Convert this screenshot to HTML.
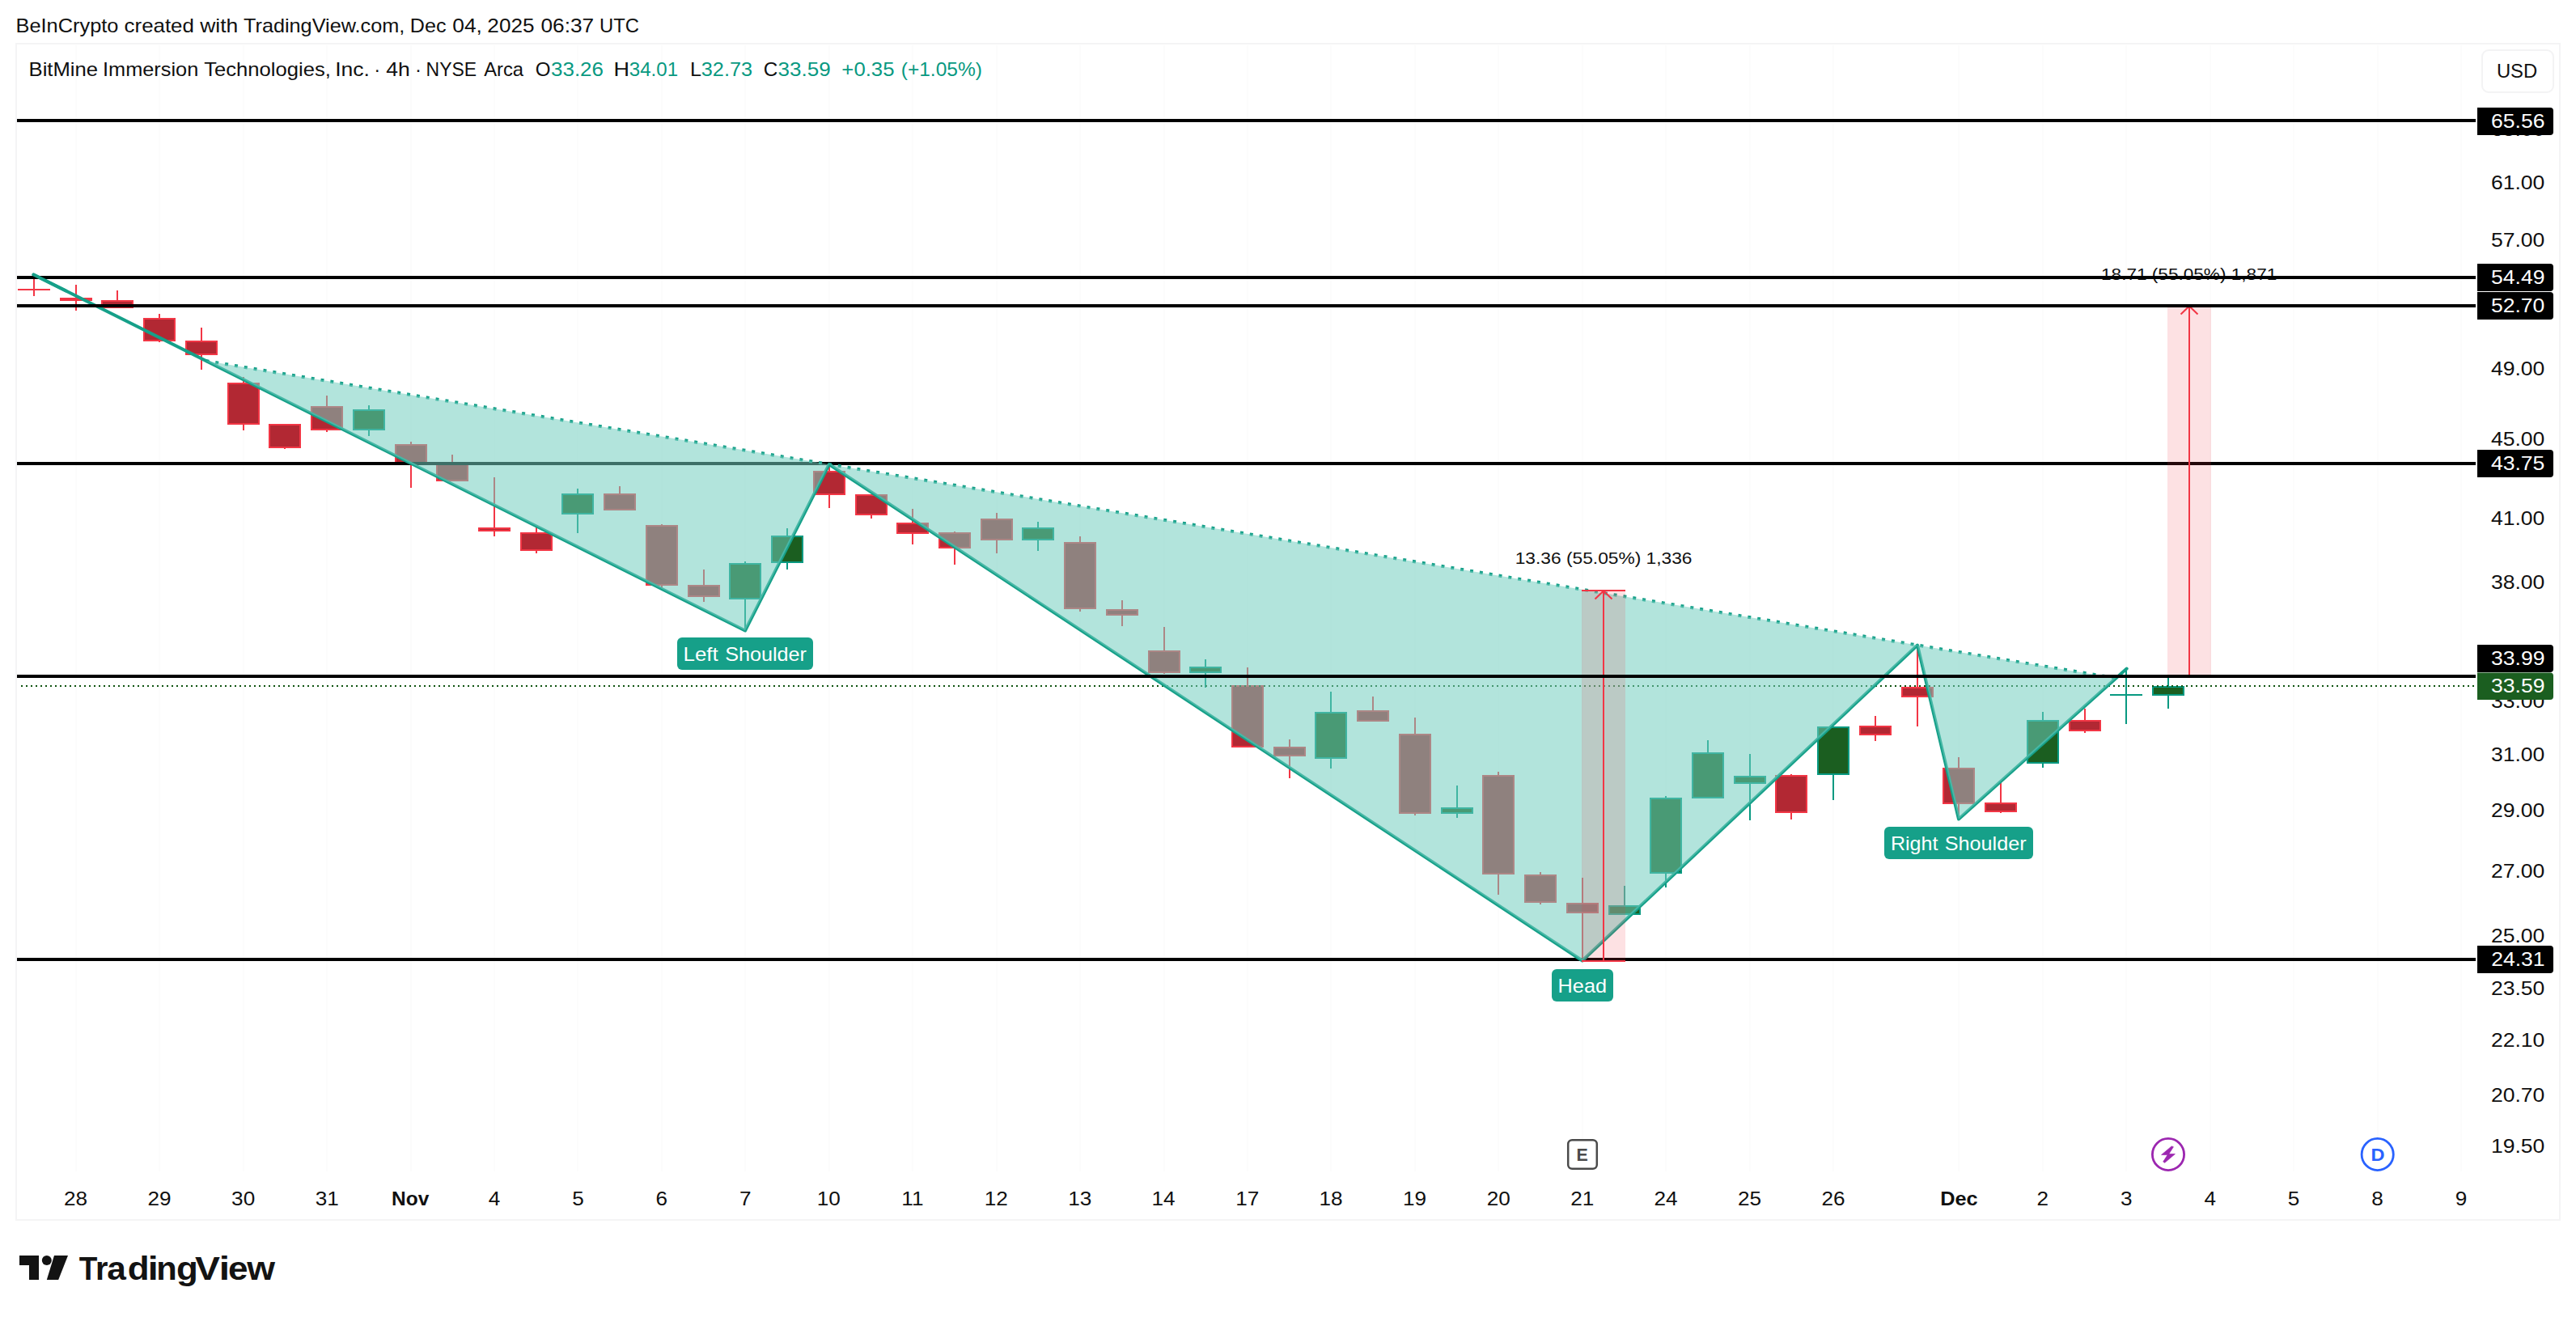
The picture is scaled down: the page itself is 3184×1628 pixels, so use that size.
<!DOCTYPE html>
<html lang="en"><head><meta charset="utf-8"><title>BMNR chart</title>
<style>html,body{margin:0;padding:0;background:#fff;}body{width:3184px;height:1628px;overflow:hidden;}svg{display:block;position:absolute;left:0;top:0;}text{font-family:"Liberation Sans", Arial, Helvetica, sans-serif;paint-order:stroke fill;}</style>
</head><body>
<svg width="3184" height="1628" viewBox="0 0 3184 1628">
<rect x="0" y="0" width="3184" height="1628" fill="#ffffff"/>
<rect x="20" y="54" width="3144" height="1454" fill="none" stroke="#f4f4f5" stroke-width="2"/>
<g stroke="#fcfcfc" stroke-width="2">
<line x1="94" y1="56" x2="94" y2="1448"/>
<line x1="197" y1="56" x2="197" y2="1448"/>
<line x1="301" y1="56" x2="301" y2="1448"/>
<line x1="404" y1="56" x2="404" y2="1448"/>
<line x1="508" y1="56" x2="508" y2="1448"/>
<line x1="611" y1="56" x2="611" y2="1448"/>
<line x1="714" y1="56" x2="714" y2="1448"/>
<line x1="818" y1="56" x2="818" y2="1448"/>
<line x1="921" y1="56" x2="921" y2="1448"/>
<line x1="1025" y1="56" x2="1025" y2="1448"/>
<line x1="1128" y1="56" x2="1128" y2="1448"/>
<line x1="1232" y1="56" x2="1232" y2="1448"/>
<line x1="1335" y1="56" x2="1335" y2="1448"/>
<line x1="1439" y1="56" x2="1439" y2="1448"/>
<line x1="1542" y1="56" x2="1542" y2="1448"/>
<line x1="1645" y1="56" x2="1645" y2="1448"/>
<line x1="1749" y1="56" x2="1749" y2="1448"/>
<line x1="1852" y1="56" x2="1852" y2="1448"/>
<line x1="1956" y1="56" x2="1956" y2="1448"/>
<line x1="2059" y1="56" x2="2059" y2="1448"/>
<line x1="2163" y1="56" x2="2163" y2="1448"/>
<line x1="2266" y1="56" x2="2266" y2="1448"/>
<line x1="2421" y1="56" x2="2421" y2="1448"/>
<line x1="2525" y1="56" x2="2525" y2="1448"/>
<line x1="2628" y1="56" x2="2628" y2="1448"/>
<line x1="2732" y1="56" x2="2732" y2="1448"/>
<line x1="2835" y1="56" x2="2835" y2="1448"/>
<line x1="2939" y1="56" x2="2939" y2="1448"/>
<line x1="3042" y1="56" x2="3042" y2="1448"/>
</g>
<g shape-rendering="crispEdges">
<rect x="41" y="341" width="2" height="25" fill="#f23645"/>
<rect x="22" y="357" width="40" height="2" fill="#f23645"/>
<rect x="93" y="352" width="2" height="32" fill="#f23645"/>
<rect x="74" y="368" width="40" height="4" fill="#f23645"/>
<rect x="144" y="359" width="2" height="22" fill="#f23645"/>
<rect x="125" y="371" width="40" height="10" fill="#f23645"/>
<rect x="127" y="373" width="36" height="6" fill="#b22833"/>
<rect x="196" y="388" width="2" height="35" fill="#f23645"/>
<rect x="177" y="393" width="40" height="29" fill="#f23645"/>
<rect x="179" y="395" width="36" height="25" fill="#b22833"/>
<rect x="248" y="405" width="2" height="52" fill="#f23645"/>
<rect x="229" y="421" width="40" height="18" fill="#f23645"/>
<rect x="231" y="423" width="36" height="14" fill="#b22833"/>
<rect x="300" y="466" width="2" height="66" fill="#f23645"/>
<rect x="281" y="473" width="40" height="52" fill="#f23645"/>
<rect x="283" y="475" width="36" height="48" fill="#b22833"/>
<rect x="351" y="524" width="2" height="31" fill="#f23645"/>
<rect x="332" y="524" width="40" height="30" fill="#f23645"/>
<rect x="334" y="526" width="36" height="26" fill="#b22833"/>
<rect x="403" y="489" width="2" height="45" fill="#f23645"/>
<rect x="384" y="502" width="40" height="30" fill="#f23645"/>
<rect x="386" y="504" width="36" height="26" fill="#b22833"/>
<rect x="455" y="501" width="2" height="38" fill="#089981"/>
<rect x="436" y="506" width="40" height="26" fill="#089981"/>
<rect x="438" y="508" width="36" height="22" fill="#1b5e20"/>
<rect x="507" y="546" width="2" height="57" fill="#f23645"/>
<rect x="488" y="549" width="40" height="24" fill="#f23645"/>
<rect x="490" y="551" width="36" height="20" fill="#b22833"/>
<rect x="558" y="562" width="2" height="33" fill="#f23645"/>
<rect x="539" y="571" width="40" height="24" fill="#f23645"/>
<rect x="541" y="573" width="36" height="20" fill="#b22833"/>
<rect x="610" y="590" width="2" height="73" fill="#f23645"/>
<rect x="591" y="652" width="40" height="5" fill="#f23645"/>
<rect x="593" y="654" width="36" height="1" fill="#b22833"/>
<rect x="662" y="652" width="2" height="32" fill="#f23645"/>
<rect x="643" y="658" width="40" height="23" fill="#f23645"/>
<rect x="645" y="660" width="36" height="19" fill="#b22833"/>
<rect x="713" y="604" width="2" height="55" fill="#089981"/>
<rect x="694" y="610" width="40" height="26" fill="#089981"/>
<rect x="696" y="612" width="36" height="22" fill="#1b5e20"/>
<rect x="765" y="601" width="2" height="30" fill="#f23645"/>
<rect x="746" y="610" width="40" height="21" fill="#f23645"/>
<rect x="748" y="612" width="36" height="17" fill="#b22833"/>
<rect x="817" y="648" width="2" height="81" fill="#f23645"/>
<rect x="798" y="649" width="40" height="75" fill="#f23645"/>
<rect x="800" y="651" width="36" height="71" fill="#b22833"/>
<rect x="869" y="704" width="2" height="40" fill="#f23645"/>
<rect x="850" y="723" width="40" height="15" fill="#f23645"/>
<rect x="852" y="725" width="36" height="11" fill="#b22833"/>
<rect x="920" y="694" width="2" height="87" fill="#089981"/>
<rect x="901" y="696" width="40" height="45" fill="#089981"/>
<rect x="903" y="698" width="36" height="41" fill="#1b5e20"/>
<rect x="972" y="653" width="2" height="51" fill="#089981"/>
<rect x="953" y="662" width="40" height="34" fill="#089981"/>
<rect x="955" y="664" width="36" height="30" fill="#1b5e20"/>
<rect x="1024" y="574" width="2" height="54" fill="#f23645"/>
<rect x="1005" y="582" width="40" height="30" fill="#f23645"/>
<rect x="1007" y="584" width="36" height="26" fill="#b22833"/>
<rect x="1076" y="611" width="2" height="30" fill="#f23645"/>
<rect x="1057" y="611" width="40" height="26" fill="#f23645"/>
<rect x="1059" y="613" width="36" height="22" fill="#b22833"/>
<rect x="1127" y="629" width="2" height="44" fill="#f23645"/>
<rect x="1108" y="646" width="40" height="14" fill="#f23645"/>
<rect x="1110" y="648" width="36" height="10" fill="#b22833"/>
<rect x="1179" y="657" width="2" height="41" fill="#f23645"/>
<rect x="1160" y="658" width="40" height="20" fill="#f23645"/>
<rect x="1162" y="660" width="36" height="16" fill="#b22833"/>
<rect x="1231" y="634" width="2" height="50" fill="#f23645"/>
<rect x="1212" y="641" width="40" height="27" fill="#f23645"/>
<rect x="1214" y="643" width="36" height="23" fill="#b22833"/>
<rect x="1282" y="645" width="2" height="36" fill="#089981"/>
<rect x="1263" y="652" width="40" height="16" fill="#089981"/>
<rect x="1265" y="654" width="36" height="12" fill="#1b5e20"/>
<rect x="1334" y="663" width="2" height="93" fill="#f23645"/>
<rect x="1315" y="670" width="40" height="83" fill="#f23645"/>
<rect x="1317" y="672" width="36" height="79" fill="#b22833"/>
<rect x="1386" y="742" width="2" height="32" fill="#f23645"/>
<rect x="1367" y="753" width="40" height="8" fill="#f23645"/>
<rect x="1369" y="755" width="36" height="4" fill="#b22833"/>
<rect x="1438" y="775" width="2" height="58" fill="#f23645"/>
<rect x="1419" y="804" width="40" height="28" fill="#f23645"/>
<rect x="1421" y="806" width="36" height="24" fill="#b22833"/>
<rect x="1489" y="815" width="2" height="35" fill="#089981"/>
<rect x="1470" y="824" width="40" height="8" fill="#089981"/>
<rect x="1472" y="826" width="36" height="4" fill="#1b5e20"/>
<rect x="1541" y="825" width="2" height="99" fill="#f23645"/>
<rect x="1522" y="847" width="40" height="77" fill="#f23645"/>
<rect x="1524" y="849" width="36" height="73" fill="#b22833"/>
<rect x="1593" y="914" width="2" height="48" fill="#f23645"/>
<rect x="1574" y="923" width="40" height="12" fill="#f23645"/>
<rect x="1576" y="925" width="36" height="8" fill="#b22833"/>
<rect x="1644" y="855" width="2" height="95" fill="#089981"/>
<rect x="1625" y="880" width="40" height="58" fill="#089981"/>
<rect x="1627" y="882" width="36" height="54" fill="#1b5e20"/>
<rect x="1696" y="861" width="2" height="31" fill="#f23645"/>
<rect x="1677" y="878" width="40" height="14" fill="#f23645"/>
<rect x="1679" y="880" width="36" height="10" fill="#b22833"/>
<rect x="1748" y="887" width="2" height="121" fill="#f23645"/>
<rect x="1729" y="907" width="40" height="99" fill="#f23645"/>
<rect x="1731" y="909" width="36" height="95" fill="#b22833"/>
<rect x="1800" y="971" width="2" height="40" fill="#089981"/>
<rect x="1781" y="998" width="40" height="8" fill="#089981"/>
<rect x="1783" y="1000" width="36" height="4" fill="#1b5e20"/>
<rect x="1851" y="954" width="2" height="152" fill="#f23645"/>
<rect x="1832" y="958" width="40" height="123" fill="#f23645"/>
<rect x="1834" y="960" width="36" height="119" fill="#b22833"/>
<rect x="1903" y="1078" width="2" height="40" fill="#f23645"/>
<rect x="1884" y="1081" width="40" height="35" fill="#f23645"/>
<rect x="1886" y="1083" width="36" height="31" fill="#b22833"/>
<rect x="1955" y="1085" width="2" height="102" fill="#f23645"/>
<rect x="1936" y="1116" width="40" height="13" fill="#f23645"/>
<rect x="1938" y="1118" width="36" height="9" fill="#b22833"/>
<rect x="2007" y="1095" width="2" height="36" fill="#089981"/>
<rect x="1988" y="1119" width="40" height="12" fill="#089981"/>
<rect x="1990" y="1121" width="36" height="8" fill="#1b5e20"/>
<rect x="2058" y="984" width="2" height="113" fill="#089981"/>
<rect x="2039" y="986" width="40" height="94" fill="#089981"/>
<rect x="2041" y="988" width="36" height="90" fill="#1b5e20"/>
<rect x="2110" y="915" width="2" height="72" fill="#089981"/>
<rect x="2091" y="930" width="40" height="57" fill="#089981"/>
<rect x="2093" y="932" width="36" height="53" fill="#1b5e20"/>
<rect x="2162" y="932" width="2" height="82" fill="#089981"/>
<rect x="2143" y="959" width="40" height="10" fill="#089981"/>
<rect x="2145" y="961" width="36" height="6" fill="#1b5e20"/>
<rect x="2213" y="957" width="2" height="56" fill="#f23645"/>
<rect x="2194" y="958" width="40" height="47" fill="#f23645"/>
<rect x="2196" y="960" width="36" height="43" fill="#b22833"/>
<rect x="2265" y="898" width="2" height="91" fill="#089981"/>
<rect x="2246" y="898" width="40" height="60" fill="#089981"/>
<rect x="2248" y="900" width="36" height="56" fill="#1b5e20"/>
<rect x="2317" y="885" width="2" height="31" fill="#f23645"/>
<rect x="2298" y="897" width="40" height="12" fill="#f23645"/>
<rect x="2300" y="899" width="36" height="8" fill="#b22833"/>
<rect x="2369" y="798" width="2" height="100" fill="#f23645"/>
<rect x="2350" y="849" width="40" height="13" fill="#f23645"/>
<rect x="2352" y="851" width="36" height="9" fill="#b22833"/>
<rect x="2420" y="936" width="2" height="76" fill="#f23645"/>
<rect x="2401" y="949" width="40" height="45" fill="#f23645"/>
<rect x="2403" y="951" width="36" height="41" fill="#b22833"/>
<rect x="2472" y="964" width="2" height="41" fill="#f23645"/>
<rect x="2453" y="992" width="40" height="12" fill="#f23645"/>
<rect x="2455" y="994" width="36" height="8" fill="#b22833"/>
<rect x="2524" y="880" width="2" height="69" fill="#089981"/>
<rect x="2505" y="890" width="40" height="54" fill="#089981"/>
<rect x="2507" y="892" width="36" height="50" fill="#1b5e20"/>
<rect x="2576" y="876" width="2" height="30" fill="#f23645"/>
<rect x="2557" y="890" width="40" height="14" fill="#f23645"/>
<rect x="2559" y="892" width="36" height="10" fill="#b22833"/>
<rect x="2627" y="827" width="2" height="68" fill="#089981"/>
<rect x="2608" y="858" width="40" height="2" fill="#089981"/>
<rect x="2679" y="837" width="2" height="39" fill="#089981"/>
<rect x="2660" y="848" width="40" height="12" fill="#089981"/>
<rect x="2662" y="850" width="36" height="8" fill="#1b5e20"/>
</g>
<line x1="26" y1="848" x2="3060" y2="848" stroke="#0e520f" stroke-width="2" stroke-dasharray="2 4" shape-rendering="crispEdges"/>
<rect x="21" y="147" width="3039" height="4" fill="#000"/>
<rect x="21" y="341" width="3039" height="4" fill="#000"/>
<rect x="21" y="571" width="3039" height="4" fill="#000"/>
<rect x="21" y="1184" width="3039" height="4" fill="#000"/>
<g>
<line x1="254.4" y1="446.0" x2="2615.5" y2="838.3" stroke="#16a089" stroke-width="4" stroke-dasharray="4 8"/>
<polyline points="41.5,339.5 921.0,779.5 1024.8,574.0 1955.8,1187.5 2370.0,797.5 2421.0,1012.5 2628.7,826.5" fill="none" stroke="#16a089" stroke-width="4" stroke-linejoin="round" stroke-linecap="round"/>
<polygon points="254.4,446.0 921.0,779.5 1024.8,574.0" fill="rgba(112,205,190,0.54)"/>
<polygon points="1024.8,574.0 1955.8,1187.5 2370.0,797.5" fill="rgba(112,205,190,0.54)"/>
<polygon points="2370.0,797.5 2421.0,1012.5 2615.5,838.3" fill="rgba(112,205,190,0.54)"/>
</g>
<rect x="1955" y="729" width="54" height="459" fill="rgba(242,54,69,0.15)"/>
<g stroke="#f23645" stroke-width="2" fill="none">
<line x1="1955" y1="730" x2="2009" y2="730"/>
<line x1="1955" y1="1188" x2="2009" y2="1188"/>
<line x1="1982" y1="730" x2="1982" y2="1188"/>
<polyline points="1971.5,740.5 1982,730.5 1992.5,740.5"/>
</g>
<text x="1872.69" y="697.40" font-size="20.40" fill="#101010" textLength="218.79" lengthAdjust="spacingAndGlyphs">13.36 (55.05%) 1,336</text>
<rect x="2679" y="378" width="54" height="458" fill="rgba(242,54,69,0.15)"/>
<g stroke="#f23645" stroke-width="2" fill="none">
<line x1="2679" y1="378" x2="2733" y2="378"/>
<line x1="2706" y1="378" x2="2706" y2="836"/>
<polyline points="2695.5,388.5 2706,378.5 2716.5,388.5"/>
</g>
<text x="2597.01" y="346.00" font-size="20.40" fill="#101010" textLength="217.28" lengthAdjust="spacingAndGlyphs">18.71 (55.05%) 1,871</text>
<rect x="21" y="341" width="3039" height="4" fill="#000"/>
<rect x="21" y="376" width="3039" height="4" fill="#000"/>
<rect x="21" y="834" width="3039" height="4" fill="#000"/>
<line x1="41.5" y1="339.5" x2="81.5" y2="359.5" stroke="#16a089" stroke-width="4" stroke-linecap="round"/>
<rect x="837.0" y="788.0" width="168.0" height="40.0" rx="6" ry="6" fill="#16a089"/>
<text y="817.00" font-size="23.60"><tspan x="844.53" fill="#fff" textLength="43.11" lengthAdjust="spacingAndGlyphs">Left</tspan> <tspan x="896.17" fill="#fff" textLength="100.82" lengthAdjust="spacingAndGlyphs">Shoulder</tspan></text>
<rect x="1918.0" y="1198.0" width="76.0" height="40.0" rx="6" ry="6" fill="#16a089"/>
<text y="1227.00" font-size="23.60"><tspan x="1925.58" fill="#fff" textLength="60.42" lengthAdjust="spacingAndGlyphs">Head</tspan></text>
<rect x="2329.0" y="1022.0" width="184.0" height="40.0" rx="6" ry="6" fill="#16a089"/>
<text y="1051.00" font-size="23.60"><tspan x="2337.00" fill="#fff" textLength="58.41" lengthAdjust="spacingAndGlyphs">Right</tspan> <tspan x="2403.67" fill="#fff" textLength="100.92" lengthAdjust="spacingAndGlyphs">Shoulder</tspan></text>
<text x="3078.93" y="167.80" font-size="24.00" fill="#101010" textLength="66.37" lengthAdjust="spacingAndGlyphs">65.00</text>
<text x="3078.93" y="234.00" font-size="24.00" fill="#101010" textLength="66.37" lengthAdjust="spacingAndGlyphs">61.00</text>
<text x="3078.93" y="305.40" font-size="24.00" fill="#101010" textLength="66.37" lengthAdjust="spacingAndGlyphs">57.00</text>
<text x="3078.93" y="463.50" font-size="24.00" fill="#101010" textLength="66.37" lengthAdjust="spacingAndGlyphs">49.00</text>
<text x="3078.93" y="550.90" font-size="24.00" fill="#101010" textLength="66.37" lengthAdjust="spacingAndGlyphs">45.00</text>
<text x="3078.93" y="649.00" font-size="24.00" fill="#101010" textLength="66.37" lengthAdjust="spacingAndGlyphs">41.00</text>
<text x="3078.93" y="727.70" font-size="24.00" fill="#101010" textLength="66.37" lengthAdjust="spacingAndGlyphs">38.00</text>
<text x="3078.93" y="813.60" font-size="24.00" fill="#101010" textLength="66.37" lengthAdjust="spacingAndGlyphs">35.00</text>
<text x="3078.93" y="875.40" font-size="24.00" fill="#101010" textLength="66.37" lengthAdjust="spacingAndGlyphs">33.00</text>
<text x="3078.93" y="941.30" font-size="24.00" fill="#101010" textLength="66.37" lengthAdjust="spacingAndGlyphs">31.00</text>
<text x="3078.93" y="1010.20" font-size="24.00" fill="#101010" textLength="66.37" lengthAdjust="spacingAndGlyphs">29.00</text>
<text x="3078.93" y="1084.90" font-size="24.00" fill="#101010" textLength="66.37" lengthAdjust="spacingAndGlyphs">27.00</text>
<text x="3078.93" y="1165.20" font-size="24.00" fill="#101010" textLength="66.37" lengthAdjust="spacingAndGlyphs">25.00</text>
<text x="3078.93" y="1229.90" font-size="24.00" fill="#101010" textLength="66.37" lengthAdjust="spacingAndGlyphs">23.50</text>
<text x="3078.93" y="1294.30" font-size="24.00" fill="#101010" textLength="66.37" lengthAdjust="spacingAndGlyphs">22.10</text>
<text x="3078.93" y="1362.00" font-size="24.00" fill="#101010" textLength="66.37" lengthAdjust="spacingAndGlyphs">20.70</text>
<text x="3078.93" y="1424.90" font-size="24.00" fill="#101010" textLength="66.37" lengthAdjust="spacingAndGlyphs">19.50</text>
<path d="M3062,133.0 H3152 a4,4 0 0 1 4,4 V163.0 a4,4 0 0 1 -4,4 H3062 Z" fill="#000"/>
<text x="3079.06" y="158.20" font-size="24.00" fill="#fff" textLength="66.37" lengthAdjust="spacingAndGlyphs">65.56</text>
<path d="M3062,326.0 H3152 a4,4 0 0 1 4,4 V356.0 a4,4 0 0 1 -4,4 H3062 Z" fill="#000"/>
<text x="3079.13" y="351.20" font-size="24.00" fill="#fff" textLength="66.37" lengthAdjust="spacingAndGlyphs">54.49</text>
<path d="M3062,361.0 H3152 a4,4 0 0 1 4,4 V391.0 a4,4 0 0 1 -4,4 H3062 Z" fill="#000"/>
<text x="3078.93" y="386.20" font-size="24.00" fill="#fff" textLength="66.37" lengthAdjust="spacingAndGlyphs">52.70</text>
<path d="M3062,556.0 H3152 a4,4 0 0 1 4,4 V586.0 a4,4 0 0 1 -4,4 H3062 Z" fill="#000"/>
<text x="3078.99" y="581.20" font-size="24.00" fill="#fff" textLength="66.37" lengthAdjust="spacingAndGlyphs">43.75</text>
<path d="M3062,1169.0 H3152 a4,4 0 0 1 4,4 V1199.0 a4,4 0 0 1 -4,4 H3062 Z" fill="#000"/>
<text x="3079.19" y="1194.20" font-size="24.00" fill="#fff" textLength="66.37" lengthAdjust="spacingAndGlyphs">24.31</text>
<path d="M3062,797.0 H3152 a4,4 0 0 1 4,4 V827.0 a4,4 0 0 1 -4,4 H3062 Z" fill="#000"/>
<text x="3079.13" y="822.20" font-size="24.00" fill="#fff" textLength="66.37" lengthAdjust="spacingAndGlyphs">33.99</text>
<path d="M3062,831.5 H3152 a4,4 0 0 1 4,4 V861.0 a4,4 0 0 1 -4,4 H3062 Z" fill="#1b5e20"/>
<text x="3079.13" y="856.45" font-size="24.00" fill="#fff" textLength="66.37" lengthAdjust="spacingAndGlyphs">33.59</text>
<rect x="3068" y="62" width="88" height="52" rx="8" ry="8" fill="#fff" stroke="#f3f3f4" stroke-width="2"/>
<text x="3085.91" y="96.00" font-size="24.00" fill="#101010" textLength="50.29" lengthAdjust="spacingAndGlyphs">USD</text>
<text y="39.80" font-size="23.40"><tspan x="19.57" fill="#101010" textLength="126.84" lengthAdjust="spacingAndGlyphs">BeInCrypto</tspan> <tspan x="153.60" fill="#101010" textLength="86.33" lengthAdjust="spacingAndGlyphs">created</tspan> <tspan x="247.17" fill="#101010" textLength="47.11" lengthAdjust="spacingAndGlyphs">with</tspan> <tspan x="300.99" fill="#101010" textLength="199.32" lengthAdjust="spacingAndGlyphs">TradingView.com,</tspan> <tspan x="506.89" fill="#101010" textLength="44.66" lengthAdjust="spacingAndGlyphs">Dec</tspan> <tspan x="559.21" fill="#101010" textLength="36.70" lengthAdjust="spacingAndGlyphs">04,</tspan> <tspan x="602.39" fill="#101010" textLength="58.21" lengthAdjust="spacingAndGlyphs">2025</tspan> <tspan x="668.51" fill="#101010" textLength="65.73" lengthAdjust="spacingAndGlyphs">06:37</tspan> <tspan x="741.12" fill="#101010" textLength="48.88" lengthAdjust="spacingAndGlyphs">UTC</tspan></text>
<text y="93.90" font-size="24.00"><tspan x="35.55" fill="#101010" textLength="85.49" lengthAdjust="spacingAndGlyphs">BitMine</tspan> <tspan x="127.02" fill="#101010" textLength="118.26" lengthAdjust="spacingAndGlyphs">Immersion</tspan> <tspan x="252.19" fill="#101010" textLength="156.66" lengthAdjust="spacingAndGlyphs">Technologies,</tspan> <tspan x="414.21" fill="#101010" textLength="42.76" lengthAdjust="spacingAndGlyphs">Inc.</tspan> <tspan x="462.21" fill="#101010" textLength="7.99" lengthAdjust="spacingAndGlyphs">·</tspan> <tspan x="477.30" fill="#101010" textLength="29.52" lengthAdjust="spacingAndGlyphs">4h</tspan> <tspan x="513.01" fill="#101010" textLength="7.99" lengthAdjust="spacingAndGlyphs">·</tspan> <tspan x="526.56" fill="#101010" textLength="62.53" lengthAdjust="spacingAndGlyphs">NYSE</tspan> <tspan x="598.20" fill="#101010" textLength="48.87" lengthAdjust="spacingAndGlyphs">Arca</tspan> <tspan x="661.72" fill="#101010" textLength="18.74" lengthAdjust="spacingAndGlyphs">O</tspan> <tspan x="681.03" fill="#089981" textLength="64.98" lengthAdjust="spacingAndGlyphs">33.26</tspan> <tspan x="758.44" fill="#101010" textLength="19.51" lengthAdjust="spacingAndGlyphs">H</tspan> <tspan x="777.80" fill="#089981" textLength="60.25" lengthAdjust="spacingAndGlyphs">34.01</tspan> <tspan x="853.13" fill="#101010" textLength="13.00" lengthAdjust="spacingAndGlyphs">L</tspan> <tspan x="866.85" fill="#089981" textLength="63.12" lengthAdjust="spacingAndGlyphs">32.73</tspan> <tspan x="943.69" fill="#101010" textLength="17.51" lengthAdjust="spacingAndGlyphs">C</tspan> <tspan x="961.63" fill="#089981" textLength="65.04" lengthAdjust="spacingAndGlyphs">33.59</tspan> <tspan x="1040.38" fill="#089981" textLength="65.06" lengthAdjust="spacingAndGlyphs">+0.35</tspan> <tspan x="1113.73" fill="#089981" textLength="100.15" lengthAdjust="spacingAndGlyphs">(+1.05%)</tspan></text>
<text x="79.08" y="1490.20" font-size="24.00" fill="#101010" textLength="29.10" lengthAdjust="spacingAndGlyphs">28</text>
<text x="182.59" y="1490.20" font-size="24.00" fill="#101010" textLength="29.10" lengthAdjust="spacingAndGlyphs">29</text>
<text x="286.11" y="1490.20" font-size="24.00" fill="#101010" textLength="29.10" lengthAdjust="spacingAndGlyphs">30</text>
<text x="389.69" y="1490.20" font-size="24.00" fill="#101010" textLength="29.10" lengthAdjust="spacingAndGlyphs">31</text>
<text x="484.11" y="1490.20" font-size="24.00" fill="#101010" font-weight="bold" textLength="46.19" lengthAdjust="spacingAndGlyphs">Nov</text>
<text x="603.78" y="1490.20" font-size="24.00" fill="#101010" textLength="14.55" lengthAdjust="spacingAndGlyphs">4</text>
<text x="707.17" y="1490.20" font-size="24.00" fill="#101010" textLength="14.55" lengthAdjust="spacingAndGlyphs">5</text>
<text x="810.52" y="1490.20" font-size="24.00" fill="#101010" textLength="14.55" lengthAdjust="spacingAndGlyphs">6</text>
<text x="914.03" y="1490.20" font-size="24.00" fill="#101010" textLength="14.55" lengthAdjust="spacingAndGlyphs">7</text>
<text x="1009.77" y="1490.20" font-size="24.00" fill="#101010" textLength="29.10" lengthAdjust="spacingAndGlyphs">10</text>
<text x="1114.29" y="1490.20" font-size="24.00" fill="#101010" textLength="27.16" lengthAdjust="spacingAndGlyphs">11</text>
<text x="1216.80" y="1490.20" font-size="24.00" fill="#101010" textLength="29.10" lengthAdjust="spacingAndGlyphs">12</text>
<text x="1320.18" y="1490.20" font-size="24.00" fill="#101010" textLength="29.10" lengthAdjust="spacingAndGlyphs">13</text>
<text x="1423.43" y="1490.20" font-size="24.00" fill="#101010" textLength="29.10" lengthAdjust="spacingAndGlyphs">14</text>
<text x="1527.15" y="1490.20" font-size="24.00" fill="#101010" textLength="29.10" lengthAdjust="spacingAndGlyphs">17</text>
<text x="1630.50" y="1490.20" font-size="24.00" fill="#101010" textLength="29.10" lengthAdjust="spacingAndGlyphs">18</text>
<text x="1734.01" y="1490.20" font-size="24.00" fill="#101010" textLength="29.10" lengthAdjust="spacingAndGlyphs">19</text>
<text x="1837.69" y="1490.20" font-size="24.00" fill="#101010" textLength="29.10" lengthAdjust="spacingAndGlyphs">20</text>
<text x="1941.27" y="1490.20" font-size="24.00" fill="#101010" textLength="29.10" lengthAdjust="spacingAndGlyphs">21</text>
<text x="2044.46" y="1490.20" font-size="24.00" fill="#101010" textLength="29.10" lengthAdjust="spacingAndGlyphs">24</text>
<text x="2148.08" y="1490.20" font-size="24.00" fill="#101010" textLength="29.10" lengthAdjust="spacingAndGlyphs">25</text>
<text x="2251.56" y="1490.20" font-size="24.00" fill="#101010" textLength="29.10" lengthAdjust="spacingAndGlyphs">26</text>
<text x="2398.26" y="1490.20" font-size="24.00" fill="#101010" font-weight="bold" textLength="46.39" lengthAdjust="spacingAndGlyphs">Dec</text>
<text x="2517.51" y="1490.20" font-size="24.00" fill="#101010" textLength="14.55" lengthAdjust="spacingAndGlyphs">2</text>
<text x="2621.06" y="1490.20" font-size="24.00" fill="#101010" textLength="14.55" lengthAdjust="spacingAndGlyphs">3</text>
<text x="2724.51" y="1490.20" font-size="24.00" fill="#101010" textLength="14.55" lengthAdjust="spacingAndGlyphs">4</text>
<text x="2827.89" y="1490.20" font-size="24.00" fill="#101010" textLength="14.55" lengthAdjust="spacingAndGlyphs">5</text>
<text x="2931.31" y="1490.20" font-size="24.00" fill="#101010" textLength="14.55" lengthAdjust="spacingAndGlyphs">8</text>
<text x="3034.79" y="1490.20" font-size="24.00" fill="#101010" textLength="14.55" lengthAdjust="spacingAndGlyphs">9</text>
<rect x="1938.2" y="1409.2" width="35.6" height="35.6" rx="5" ry="5" fill="#fff" stroke="#4a4a4a" stroke-width="2.5"/>
<text x="1948.61" y="1434.80" font-size="22.90" fill="#4a4a4a" font-weight="bold" textLength="14.28" lengthAdjust="spacingAndGlyphs">E</text>
<circle cx="2680" cy="1427" r="19.6" fill="#fff" stroke="#9c27b0" stroke-width="2.8"/>
<path d="M4.2,-10.1 L6.4,-9.3 L0.8,-0.6 L8.4,-0.5 L-4.3,10.3 L-6.3,9.1 L-0.8,0.6 L-8.4,0.5 Z" transform="translate(2680,1427)" fill="#9c27b0" stroke="#9c27b0" stroke-width="0.7" stroke-linejoin="round"/>
<circle cx="2938.7" cy="1427" r="19.6" fill="#fff" stroke="#2962ff" stroke-width="2.8"/>
<text x="2930.47" y="1434.80" font-size="22.40" fill="#2962ff" font-weight="bold" textLength="16.96" lengthAdjust="spacingAndGlyphs">D</text>
<g fill="#131313">
<path d="M24,1552 H48 V1582 H36 V1564 H24 Z"/>
<circle cx="57.8" cy="1558" r="6"/>
<path d="M67,1552 H84 L72.2,1582 H57.8 Z"/>
</g>
<text y="1581.90" font-size="41.20" font-weight="bold" fill="#131313"><tspan x="97.73" textLength="22.58" lengthAdjust="spacingAndGlyphs">T</tspan><tspan x="118.02" textLength="15.44" lengthAdjust="spacingAndGlyphs">r</tspan><tspan x="132.23" textLength="23.60" lengthAdjust="spacingAndGlyphs">a</tspan><tspan x="157.84" textLength="26.85" lengthAdjust="spacingAndGlyphs">d</tspan><tspan x="182.77" textLength="12.90" lengthAdjust="spacingAndGlyphs">i</tspan><tspan x="193.29" textLength="25.44" lengthAdjust="spacingAndGlyphs">n</tspan><tspan x="217.94" textLength="26.85" lengthAdjust="spacingAndGlyphs">g</tspan><tspan x="240.97" textLength="30.94" lengthAdjust="spacingAndGlyphs">V</tspan><tspan x="270.67" textLength="13.30" lengthAdjust="spacingAndGlyphs">i</tspan><tspan x="281.95" textLength="24.54" lengthAdjust="spacingAndGlyphs">e</tspan><tspan x="305.22" textLength="34.78" lengthAdjust="spacingAndGlyphs">w</tspan></text>
</svg>
</body></html>
